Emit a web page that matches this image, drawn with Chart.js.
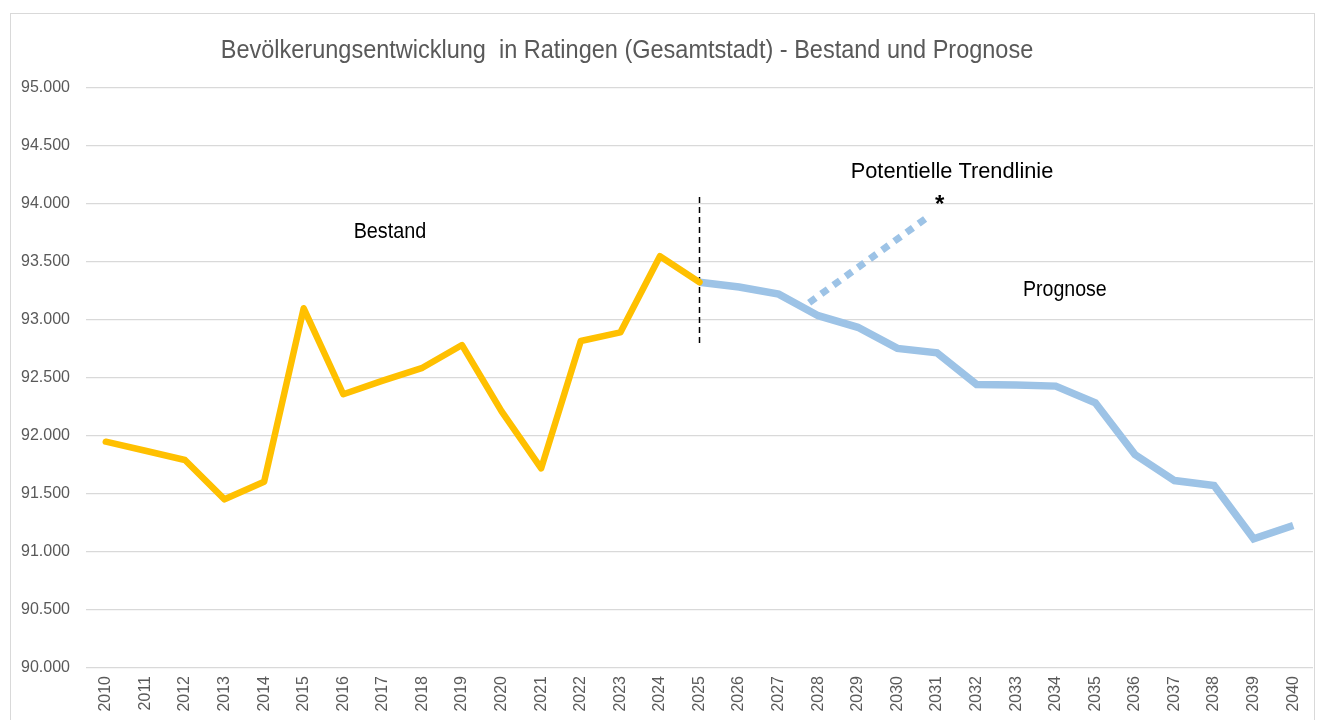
<!DOCTYPE html>
<html>
<head>
<meta charset="utf-8">
<script src="https://cdn.jsdelivr.net/npm/chart.js@4/dist/chart.umd.min.js"></script>
<style>
  html, body { margin: 0; padding: 0; background: #fff; overflow: hidden; }
  #frame { position: absolute; left: 10px; top: 13px; width: 1305px; height: 760px; border: 1px solid #d9d9d9; box-sizing: border-box; }
  #chart { position: absolute; left: 0; top: 0; }
</style>
</head>
<body>
<div id="frame"></div>
<canvas id="chart" width="1325" height="720"></canvas>
<script>
// Jahre (Kategorien)
const years = [2010, 2011, 2012, 2013, 2014, 2015, 2016, 2017, 2018, 2019, 2020,
               2021, 2022, 2023, 2024, 2025, 2026, 2027, 2028, 2029, 2030,
               2031, 2032, 2033, 2034, 2035, 2036, 2037, 2038, 2039, 2040];

// Bestand 2010-2025
const bestandYears = [2010, 2011, 2012, 2013, 2014, 2015, 2016, 2017, 2018, 2019, 2020, 2021, 2022, 2023, 2024, 2025];
const bestand = [91951, 91873, 91793, 91454, 91606, 93101, 92360, 92477, 92588, 92784, 92212, 91721, 92819, 92893, 93550, 93325];

// Prognose 2025-2040
const prognoseYears = [2025, 2026, 2027, 2028, 2029, 2030, 2031, 2032, 2033, 2034, 2035, 2036, 2037, 2038, 2039, 2040];
const prognose = [93325, 93285, 93223, 93037, 92937, 92755, 92717, 92444, 92440, 92430, 92287, 91840, 91616, 91573, 91114, 91228];

// potentielle Trendlinie (Start/Ende)
const trendYears = [2027.77, 2030.84];
const trend = [93149, 93905];

// Trennlinie Bestand / Prognose
const dividerYears = [2025, 2025];
const divider = [94060, 92780];

const yTicks = [90000, 90500, 91000, 91500, 92000, 92500, 93000, 93500, 94000, 94500, 95000];

const titleText = 'Bevölkerungsentwicklung  in Ratingen (Gesamtstadt) - Bestand und Prognose';

const FONT = '"Liberation Sans", Arial, sans-serif';

// Beschriftungen im Diagramm (Position in Datenkoordinaten)
const notes = [
  { text: 'Bestand', x: 2017.18, y: 93759, font: '22px ' + FONT, sx: 0.9 },
  { text: 'Potentielle Trendlinie', x: 2031.38, y: 94276, font: '22px ' + FONT, sx: 0.99 },
  { text: 'Prognose', x: 2034.23, y: 93259, font: '22px ' + FONT, sx: 0.89 },
  { text: '*', x: 2031.07, y: 93990, font: 'bold 24px ' + FONT, sx: 1 }
];

function pts(xs, ys) {
  return xs.map((x, i) => ({ x: x, y: ys[i] }));
}

function fmt(v) {
  const t = Math.floor(v / 1000);
  const r = String(v % 1000).padStart(3, '0');
  return t + '.' + r;
}

function drawText(ctx, text, x, y, sx) {
  ctx.save();
  ctx.translate(x, y);
  ctx.scale(sx, 1);
  ctx.fillText(text, 0, 0);
  ctx.restore();
}

const notesPlugin = {
  id: 'notes',
  afterDatasetsDraw(chart) {
    const ctx = chart.ctx;
    const xs = chart.scales.x, ys = chart.scales.y;
    ctx.save();
    ctx.fillStyle = '#000';
    ctx.textAlign = 'center';
    ctx.textBaseline = 'middle';
    notes.forEach(n => {
      ctx.font = n.font;
      drawText(ctx, n.text, xs.getPixelForValue(n.x), ys.getPixelForValue(n.y), n.sx);
    });
    ctx.font = '25px ' + FONT;
    ctx.fillStyle = '#595959';
    drawText(ctx, titleText, 627, 51, 0.94);
    ctx.restore();
  }
};

const ctx = document.getElementById('chart').getContext('2d');
const chart = new Chart(ctx, {
  type: 'line',
  data: {
    datasets: [
      {
        label: 'Bestand',
        data: pts(bestandYears, bestand),
        borderColor: '#FFC000',
        borderWidth: 6.5,
        pointRadius: 0,
        borderJoinStyle: 'round',
        borderCapStyle: 'round',
        tension: 0
      },
      {
        label: 'Prognose',
        data: pts(prognoseYears, prognose),
        borderColor: '#9DC3E6',
        borderWidth: 7.5,
        pointRadius: 0,
        borderJoinStyle: 'miter',
        borderCapStyle: 'butt',
        tension: 0
      },
      {
        label: 'Trend',
        data: pts(trendYears, trend),
        borderColor: '#9DC3E6',
        borderWidth: 7,
        borderDash: [8, 7],
        pointRadius: 0,
        borderCapStyle: 'butt'
      },
      {
        label: 'Trennlinie',
        data: pts(dividerYears, divider),
        borderColor: '#000',
        borderWidth: 1.5,
        borderDash: [6, 4],
        pointRadius: 0
      }
    ]
  },
  options: {
    responsive: false,
    animation: false,
    events: [],
    layout: { padding: { left: 12, right: 12, top: 88, bottom: 0 } },
    plugins: {
      legend: { display: false },
      title: { display: false },
      tooltip: { enabled: false }
    },
    scales: {
      x: {
        type: 'linear',
        min: 2009.5,
        max: 2040.5,
        grid: { display: false },
        border: { display: false },
        afterBuildTicks: s => { s.ticks = years.map(v => ({ value: v })); },
        afterFit: s => { s.height = 52; },
        ticks: {
          autoSkip: false,
          minRotation: 90,
          maxRotation: 90,
          padding: 0,
          color: '#595959',
          font: { family: FONT, size: 16 },
          callback: v => String(v)
        }
      },
      y: {
        min: 90000,
        max: 95000,
        border: { display: false },
        grid: { color: '#d9d9d9', lineWidth: 1.3, drawTicks: false },
        afterBuildTicks: s => { s.ticks = yTicks.map(v => ({ value: v })); },
        afterFit: s => { s.width = 74; },
        ticks: {
          padding: 16,
          color: '#595959',
          font: { family: FONT, size: 16 },
          callback: v => fmt(v)
        }
      }
    }
  },
  plugins: [notesPlugin]
});
</script>
</body>
</html>
